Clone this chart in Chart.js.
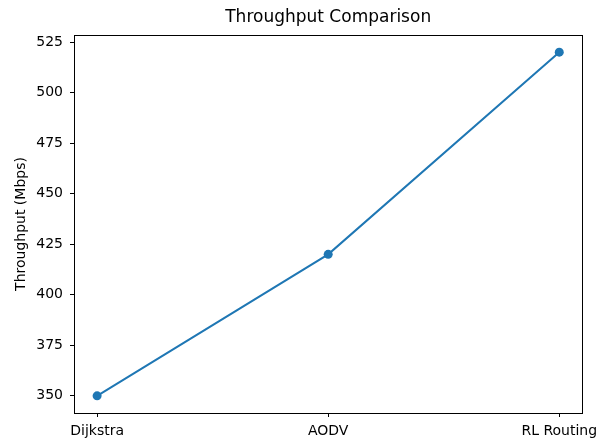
<!DOCTYPE html>
<html>
<head>
<meta charset="utf-8">
<script src="https://cdn.jsdelivr.net/npm/chart.js@4"></script>
<style>
  html, body { margin: 0; padding: 0; background: #fff; }
  #wrap { width: 604px; height: 439px; }
</style>
</head>
<body>
<div id="wrap"><canvas id="tp"></canvas></div>
<script>
// throughput per routing method
var METHODS = ['Dijkstra', 'AODV', 'RL Routing'];
var THROUGHPUT = [350, 420, 520];
var Y_TICKS = [350, 375, 400, 425, 450, 475, 500, 525];
var TITLE = 'Throughput Comparison';

var BLUE = '#1f77b4', FONT = "'DejaVu Sans', sans-serif";

// matplotlib-style full frame, and the title centred over the axes (not the canvas)
var frame = {
  id: 'frame',
  afterDraw: function (c) {
    var a = c.chartArea, ctx = c.ctx;
    ctx.save();
    ctx.strokeStyle = '#000'; ctx.lineWidth = 1;
    ctx.strokeRect(Math.round(a.left) + 0.5, Math.round(a.top) + 0.5,
                   Math.round(a.right - a.left), Math.round(a.bottom - a.top));
    ctx.fillStyle = '#000';
    ctx.font = '17px ' + FONT;
    ctx.textAlign = 'center'; ctx.textBaseline = 'middle';
    ctx.fillText(TITLE, (a.left + a.right) / 2, 18);
    ctx.restore();
  }
};

new Chart(document.getElementById('tp').getContext('2d'), {
  type: 'line',
  data: {
    datasets: [{
      data: THROUGHPUT.map(function (v, i) { return { x: i, y: v }; }),
      borderColor: BLUE, backgroundColor: BLUE, borderWidth: 2,
      pointRadius: 4.5, pointHoverRadius: 4.5, pointBorderWidth: 0,
      tension: 0, fill: false
    }]
  },
  options: {
    responsive: true, maintainAspectRatio: false, animation: false,
    layout: { padding: { left: 0, right: 20, top: 35, bottom: 0 } },
    plugins: { legend: { display: false }, tooltip: { enabled: false }, title: { display: false } },
    scales: {
      x: { type: 'linear', min: -0.1, max: 2.1,
        afterBuildTicks: function (s) { s.ticks = METHODS.map(function (_, i) { return { value: i }; }); },
        afterFit: function (s) { s.height = 26; },
        grid: { drawOnChartArea: false, tickLength: 4, color: '#000' },
        border: { display: true, color: '#000' },
        ticks: { color: '#000', font: { family: FONT, size: 14 }, padding: 6, maxRotation: 0, autoSkip: false,
          callback: function (v) { return METHODS[v] || ''; } } },
      y: { min: 341.5, max: 528.5,
        afterBuildTicks: function (s) { s.ticks = Y_TICKS.map(function (v) { return { value: v }; }); },
        afterFit: function (s) { s.width = 74; },
        title: { display: true, text: 'Throughput (Mbps)', color: '#000',
          font: { family: FONT, size: 14 }, padding: { top: 13, bottom: 0 } },
        grid: { drawOnChartArea: false, tickLength: 4, color: '#000' },
        border: { display: true, color: '#000' },
        ticks: { color: '#000', font: { family: FONT, size: 14 }, padding: 7 } }
    }
  },
  plugins: [frame]
});
</script>
</body>
</html>
